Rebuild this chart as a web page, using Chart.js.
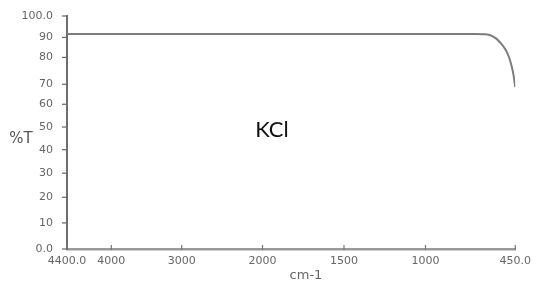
<!DOCTYPE html>
<html lang="en">

<head>
    <meta charset="UTF-8">
    <title>KCl - %T spectrum</title>
    <script src="https://cdn.jsdelivr.net/npm/chart.js"></script>
    <style>
        html, body {
            margin: 0;
            padding: 0;
            background: #fff;
        }

        .chart-container {
            width: 537px;
            height: 284px;
        }
    </style>
</head>

<body>
    <div class="chart-container">
        <canvas id="irChart" width="537" height="284"></canvas>
    </div>

    <script>
        // Spectrum data
        const wavenumbers = [4400, 4000, 3000, 2000, 1500, 1000, 800, 700, 644, 607, 570, 540, 509, 491, 472, 460, 450];
        const transmittance = [91.6, 91.6, 91.6, 91.6, 91.6, 91.6, 91.6, 91.6, 91.5, 91.1, 89.6, 87.2, 83.8, 80.7, 76.7, 73.2, 68.6];

        // Tick values and labels
        const xTicks = [4400, 4000, 3000, 2000, 1500, 1000, 450];
        const xTickLabels = ['4400.0', '4000', '3000', '2000', '1500', '1000', '450.0'];
        const yTicks = [0, 10, 20, 30, 40, 50, 60, 70, 80, 90, 100];
        const yTickLabels = ['0.0', '10', '20', '30', '40', '50', '60', '70', '80', '90', '100.0'];

        // The original axes are not evenly spaced, so each tick value gets an axis position
        const xWarp = [4400, 4009.7, 3389.2, 2677.3, 1959.2, 1241, 450];
        const yWarp = [0, 11.19, 22.21, 32.54, 42.62, 52.35, 62.12, 70.73, 82.22, 90.83, 100];

        function warp(v, knots, pos) {
            for (let i = 0; i < knots.length - 1; i++) {
                const a = knots[i], b = knots[i + 1];
                if ((v - a) * (v - b) <= 0) {
                    return pos[i] + (v - a) / (b - a) * (pos[i + 1] - pos[i]);
                }
            }
            return v;
        }
        const wx = v => warp(v, xTicks, xWarp);
        const wy = v => warp(v, yTicks, yWarp);

        const points = wavenumbers.map((w, i) => ({ x: wx(w), y: wy(transmittance[i]) }));

        const tickFont = { family: 'DejaVu Sans', size: 11 };

        // extra texts and the short tick marks
        const extras = {
            id: 'extras',
            afterDraw(chart) {
                const c = chart.ctx;
                const xs = chart.scales.x, ys = chart.scales.y;
                const area = chart.chartArea;
                c.save();
                c.strokeStyle = '#777';
                c.lineWidth = 1.2;
                xTicks.forEach(w => {
                    const px = xs.getPixelForValue(wx(w));
                    c.beginPath();
                    c.moveTo(px, area.bottom - 4);
                    c.lineTo(px, area.bottom + 1);
                    c.stroke();
                });
                c.strokeStyle = '#666';
                yTicks.forEach(v => {
                    const py = ys.getPixelForValue(wy(v));
                    c.beginPath();
                    c.moveTo(area.left - 5, py);
                    c.lineTo(area.left, py);
                    c.stroke();
                });
                c.textAlign = 'center';
                c.textBaseline = 'middle';
                c.fillStyle = '#555';
                c.font = '15px "DejaVu Sans"';
                c.fillText('%T', 21, 139);
                c.fillStyle = '#666';
                c.font = '13px "DejaVu Sans"';
                c.fillText('cm-1', 306, 276);
                c.fillStyle = '#111';
                c.font = '22px Lato';
                c.fillText('KCl', 272, 130);
                c.restore();
            }
        };

        const ctx = document.getElementById('irChart').getContext('2d');
        new Chart(ctx, {
            type: 'line',
            data: {
                datasets: [{
                    data: points,
                    borderColor: '#7c7c7c',
                    borderWidth: 2,
                    pointRadius: 0,
                    cubicInterpolationMode: 'monotone',
                    fill: false
                }]
            },
            options: {
                responsive: false,
                animation: false,
                layout: { padding: { top: 16, right: 20, left: 0, bottom: 0 } },
                plugins: {
                    legend: { display: false },
                    tooltip: { enabled: false }
                },
                scales: {
                    x: {
                        type: 'linear',
                        reverse: true,
                        min: 450,
                        max: 4400,
                        afterBuildTicks: s => { s.ticks = xTicks.map(w => ({ value: wx(w) })); },
                        afterFit: s => { s.height = 35; },
                        ticks: {
                            autoSkip: false,
                            maxRotation: 0,
                            padding: 6,
                            color: '#666',
                            font: tickFont,
                            callback: (v, i) => xTickLabels[i]
                        },
                        grid: { display: false, drawTicks: false },
                        border: { display: true, color: '#9a9a9a', width: 2.5 }
                    },
                    y: {
                        type: 'linear',
                        min: 0,
                        max: 100,
                        afterBuildTicks: s => { s.ticks = yTicks.map(v => ({ value: wy(v) })); },
                        afterFit: s => { s.width = 67; },
                        ticks: {
                            autoSkip: false,
                            padding: 6,
                            color: '#666',
                            font: tickFont,
                            callback: (v, i) => yTickLabels[i]
                        },
                        grid: { display: false },
                        border: { display: true, color: '#6e6e6e', width: 2 }
                    }
                }
            },
            plugins: [extras]
        });
    </script>

</body>

</html>
